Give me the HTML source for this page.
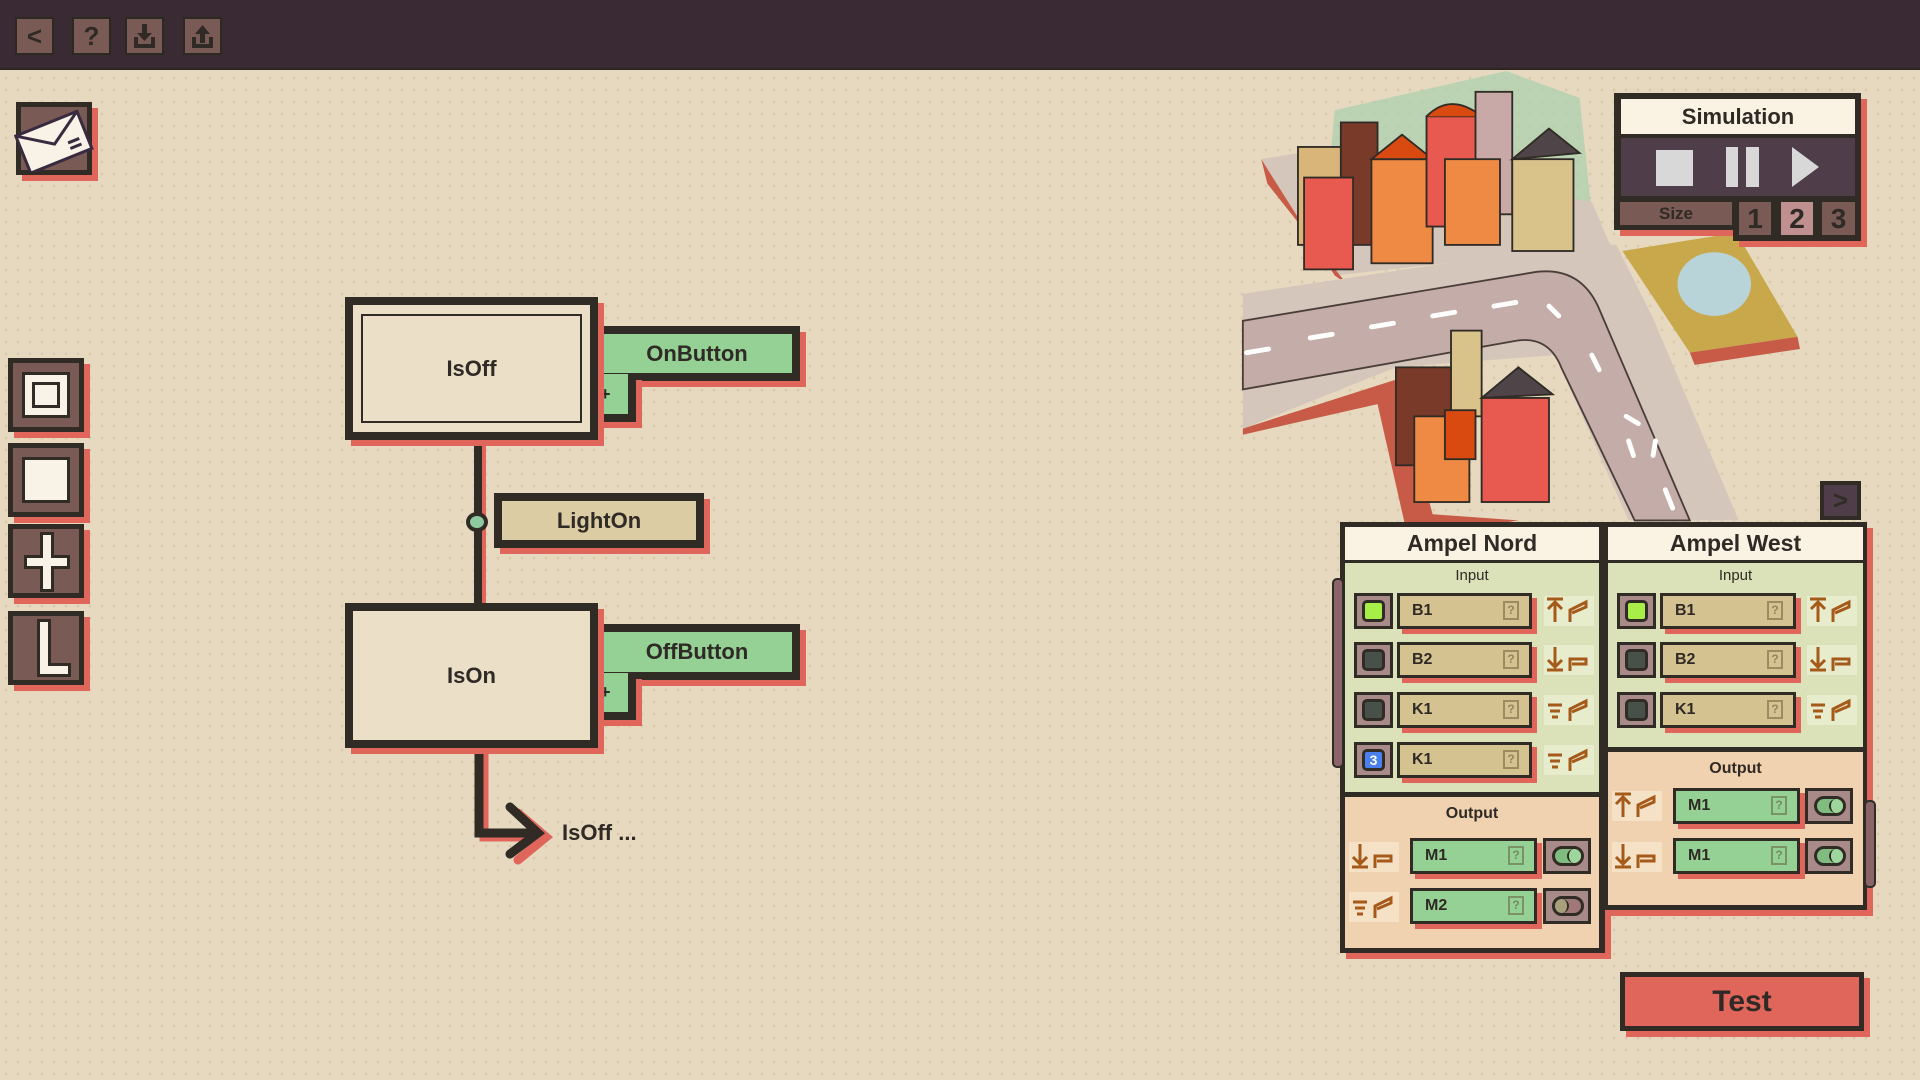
<!DOCTYPE html>
<html><head><meta charset="utf-8">
<style>
*{margin:0;padding:0;box-sizing:border-box}
body{width:1920px;height:1080px;overflow:hidden;position:relative;font-family:"Liberation Sans",sans-serif;font-weight:bold;color:#2f2a25;
background-color:#e6d9bf;background-image:radial-gradient(circle,#d9caae 1.3px,transparent 1.6px);background-size:12px 12px}
.a{position:absolute}
.top{left:0;top:0;width:1920px;height:70px;background:#3a2a33;border-bottom:2px solid #2e2520}
.tb{position:absolute;top:17px;width:39px;height:38px;background:#7a5a55;border:2px solid #2e2822;color:#2f2a25;font-size:26px;text-align:center;line-height:34px}
.box{position:absolute;border:8px solid #302b25;box-shadow:6px 6px 0 #e0665c}
.tool{position:absolute;left:8px;width:76px;height:74px;background:#7a5a55;border:5px solid #302b25;box-shadow:6px 6px 0 #e0665c}
.tool i{position:absolute;background:#f8f3e6;border:3px solid #302b25}
.lbl{display:flex;align-items:center;justify-content:center}
.green{background:#95d095}
.lt{position:absolute;width:39px;height:36px;background:#a88a88;border:3px solid #302b25}
.lt b{position:absolute;left:5px;top:4px;width:23px;height:22px;border:3px solid #302b25;border-radius:5px}
.fld{position:absolute;height:36px;border:3px solid #302b25;box-shadow:5px 5px 0 #e0665c;font-size:16px;line-height:30px;padding-left:12px}
.fld s{position:absolute;right:10px;top:5px;width:16px;height:19px;border:2px solid rgba(90,70,40,.45);text-decoration:none;font-size:12px;line-height:15px;text-align:center;color:rgba(90,70,40,.5)}
.ic{position:absolute;width:50px;height:30px;background:rgba(255,255,240,.35)}
.tg{position:absolute;width:48px;height:36px;background:#a88a88;border:3px solid #302b25}
.tg b{position:absolute;left:6px;top:5px;width:32px;height:20px;border:3px solid #302b25;border-radius:10px;background:#80bb80}
.tg b i{position:absolute;right:0;top:0;width:14px;height:14px;border-radius:50%;background:#9ed79e;border-left:2px solid #302b25}
.tg.off b{background:#a07878}.tg.off b i{left:0;right:auto;background:#a8a07a;border-left:0;border-right:2px solid #302b25}
</style></head><body>
<div class="a top"></div>
<div class="tb" style="left:15px">&lt;</div>
<div class="tb" style="left:72px">?</div>
<div class="tb" style="left:125px"><svg width="35" height="34"><path d="M9 18v9h17v-9" fill="none" stroke="#2f2a25" stroke-width="4"/><path d="M15 5h5v9h5l-7.5 8-7.5-8h5z" fill="#2f2a25"/></svg></div>
<div class="tb" style="left:183px"><svg width="35" height="34"><path d="M9 18v9h17v-9" fill="none" stroke="#2f2a25" stroke-width="4"/><path d="M15 24h5v-9h5l-7.5-9-7.5 9h5z" fill="#2f2a25"/></svg></div>

<div class="a" style="left:16px;top:102px;width:76px;height:73px;background:#7a5a55;border:5px solid #302b25;box-shadow:6px 6px 0 #e0665c"></div>
<svg class="a" style="left:14px;top:108px" width="80" height="64"><g transform="rotate(-22 40 32)"><rect x="6" y="14" width="66" height="40" fill="#f8f3e6" stroke="#3a2a40" stroke-width="3"/><path d="M6 14l33 22 33-22" fill="none" stroke="#3a2a40" stroke-width="3"/><path d="M52 40h12M52 46h12" stroke="#3a2a40" stroke-width="3"/></g></svg>

<div class="tool" style="top:358px"><i style="left:9px;top:9px;width:48px;height:46px"></i><i style="left:19px;top:19px;width:28px;height:26px"></i></div>
<div class="tool" style="top:443px"><i style="left:9px;top:9px;width:48px;height:46px"></i></div>
<div class="tool" style="top:524px"><i style="left:27px;top:3px;width:14px;height:60px"></i><i style="left:11px;top:26px;width:46px;height:14px"></i><i style="left:30px;top:6px;width:8px;height:54px;border:0"></i></div>
<div class="tool" style="top:611px"><i style="left:24px;top:3px;width:14px;height:58px"></i><i style="left:24px;top:47px;width:34px;height:14px"></i><i style="left:27px;top:6px;width:8px;height:44px;border:0"></i></div>

<!-- diagram connectors -->
<div class="a" style="left:474px;top:440px;width:8px;height:165px;background:#302b25;box-shadow:4px 0 0 #e0665c"></div>
<div class="a" style="left:466px;top:512px;width:22px;height:20px;border-radius:50%;background:#8fc9a0;border:4px solid #302b25"></div>
<svg class="a" style="left:460px;top:745px" width="100" height="120"><g fill="none" stroke-width="9" stroke-linecap="round"><path d="M20 5v83h58M54 64l28 24-28 23" stroke="#e0665c" transform="translate(4,4)"/><path d="M19 3v85h59M50 62l28 26-28 21" stroke="#302b25"/></g></svg>
<div class="a" style="left:562px;top:820px;font-size:22px">IsOff ...</div>

<div class="box lbl green" style="left:594px;top:326px;width:206px;height:55px;font-size:22px">OnButton</div>
<div class="box lbl green" style="left:594px;top:374px;width:42px;height:48px;font-size:18px;justify-content:flex-start;padding-left:6px;border-top:0;border-left:0">+</div>
<div class="box" style="left:345px;top:297px;width:253px;height:143px;background:#ebdfc8"><div class="a lbl" style="left:8px;top:9px;right:8px;bottom:9px;border:2px solid #302b25;font-size:22px">IsOff</div></div>

<div class="box lbl green" style="left:594px;top:624px;width:206px;height:56px;font-size:22px">OffButton</div>
<div class="box lbl green" style="left:594px;top:673px;width:42px;height:47px;font-size:18px;justify-content:flex-start;padding-left:6px;border-top:0;border-left:0">+</div>
<div class="box lbl" style="left:345px;top:603px;width:253px;height:145px;background:#ebdfc8;font-size:22px">IsOn</div>

<div class="box lbl" style="left:494px;top:493px;width:210px;height:55px;background:#dccca4;font-size:22px">LightOn</div>

<!-- city -->
<svg class="a" style="left:0;top:0" width="1920" height="1080" viewBox="0 0 1568 882">
<polygon points="1090,90 1230,58 1290,80 1300,175 1080,200" fill="#a8cfae" opacity=".7"/>
<polygon points="1030,130 1060,125 1300,165 1315,200 1090,225" fill="#d5c6bb"/>
<polygon points="1030,130 1090,225 1100,232 1035,150" fill="#c85a48"/>
<polygon points="1015,240 1280,200 1320,200 1350,260 1420,425 1330,425 1270,290 1140,300 1015,350" fill="#d5c6bb"/>
<polygon points="1015,350 1140,310 1170,420 1240,425 1150,440 1125,330 1015,355" fill="#c85a48"/>
<path d="M1015 262 L1255 222 Q1290 218 1305 250 L1380 425 L1335 425 L1275 300 Q1265 275 1240 278 L1015 318 Z" fill="#c4aca8" stroke="#4a3e3a" stroke-width="1.5"/>
<g stroke="#fff" stroke-width="4" stroke-linecap="round"><path d="M1018 288l18-3M1070 276l18-3M1120 267l18-3M1170 258l18-3M1220 250l18-3M1265 250l8 8M1300 290l6 12M1328 340l10 6M1330 360l4 12M1352 360l-2 12M1360 400l6 15"/></g>
<polygon points="1325,205 1418,190 1468,275 1380,288" fill="#c8a84a"/>
<polygon points="1380,288 1468,275 1470,285 1384,298" fill="#c85a48"/>
<ellipse cx="1400" cy="232" rx="30" ry="26" fill="#b8d4d8"/>
<g stroke="#302b25" stroke-width="1.5">
<rect x="1060" y="120" width="40" height="80" fill="#d9b57a"/>
<rect x="1095" y="100" width="30" height="100" fill="#7a3a2a"/>
<rect x="1065" y="145" width="40" height="75" fill="#e85a50"/>
<rect x="1120" y="130" width="50" height="85" fill="#ef8a45"/>
<polygon points="1120,130 1145,110 1170,130" fill="#d84a10"/>
<rect x="1165" y="95" width="45" height="90" fill="#e85a50"/>
<path d="M1165 95q20-20 45 0" fill="#d84a10"/>
<rect x="1205" y="75" width="30" height="100" fill="#c9a8a8"/>
<rect x="1180" y="130" width="45" height="70" fill="#ef8a45"/>
<rect x="1235" y="130" width="50" height="75" fill="#d9c38a"/>
<polygon points="1235,130 1265,105 1290,125" fill="#4f4548"/>
<rect x="1140" y="300" width="45" height="80" fill="#7a3a2a"/>
<rect x="1185" y="270" width="25" height="70" fill="#d9c38a"/>
<rect x="1155" y="340" width="45" height="70" fill="#ef8a45"/>
<rect x="1180" y="335" width="25" height="40" fill="#d84a10"/>
<rect x="1210" y="325" width="55" height="85" fill="#e85a50"/>
<polygon points="1210,325 1240,300 1268,322" fill="#4f4548"/>
</g>
</svg>

<!-- simulation -->
<div class="a" style="left:1614px;top:93px;width:247px;height:137px;background:#302b25;box-shadow:6px 6px 0 #e0665c"></div>
<div class="a" style="left:1733px;top:200px;width:128px;height:41px;background:#302b25;box-shadow:6px 6px 0 #e0665c"></div>
<div class="a lbl" style="left:1621px;top:99px;width:234px;height:35px;background:#faf3e3;font-size:22px">Simulation</div>
<div class="a" style="left:1621px;top:138px;width:234px;height:58px;background:#4f3e4a"></div>
<div class="a" style="left:1656px;top:150px;width:37px;height:36px;background:#d8d8d8"></div>
<div class="a" style="left:1726px;top:147px;width:12px;height:40px;background:#d8d8d8"></div>
<div class="a" style="left:1746px;top:147px;width:13px;height:40px;background:#d8d8d8"></div>
<div class="a" style="left:1792px;top:147px;width:0;height:0;border-left:27px solid #d8d8d8;border-top:20px solid transparent;border-bottom:20px solid transparent"></div>
<div class="a lbl" style="left:1620px;top:202px;width:112px;height:23px;background:#7a5a55;font-size:17px">Size</div>
<div class="a lbl" style="left:1739px;top:202px;width:32px;height:33px;background:#7a5a55;font-size:28px">1</div>
<div class="a lbl" style="left:1781px;top:202px;width:32px;height:33px;background:#c09090;font-size:28px">2</div>
<div class="a lbl" style="left:1822px;top:202px;width:33px;height:33px;background:#7a5a55;font-size:28px">3</div>

<div class="a lbl" style="left:1820px;top:481px;width:41px;height:39px;background:#4f3e4a;border:4px solid #302b25;color:#302b25;font-size:26px">&gt;</div>

<!-- Ampel panels -->
<div class="a" style="left:1340px;top:522px;width:265px;height:431px;background:#302b25;box-shadow:6px 6px 0 #e0665c"></div>
<div class="a" style="left:1603px;top:522px;width:264px;height:388px;background:#302b25;box-shadow:6px 6px 0 #e0665c"></div>
<div class="a lbl" style="left:1345px;top:527px;width:254px;height:33px;background:#faf3e3;font-size:23px">Ampel Nord</div>
<div class="a" style="left:1345px;top:563px;width:254px;height:229px;background:#dbe2b9"></div>
<div class="a" style="left:1345px;top:797px;width:254px;height:151px;background:#f0d2b0"></div>
<div class="a lbl" style="left:1608px;top:527px;width:255px;height:33px;background:#faf3e3;font-size:23px">Ampel West</div>
<div class="a" style="left:1608px;top:563px;width:255px;height:184px;background:#dbe2b9"></div>
<div class="a" style="left:1608px;top:752px;width:255px;height:153px;background:#f0d2b0"></div>
<div class="a" style="left:1345px;top:567px;width:254px;text-align:center;font-size:15px;font-weight:normal">Input</div>
<div class="a" style="left:1608px;top:567px;width:255px;text-align:center;font-size:15px;font-weight:normal">Input</div>
<div class="a" style="left:1345px;top:805px;width:254px;text-align:center;font-size:16px">Output</div>
<div class="a" style="left:1608px;top:760px;width:255px;text-align:center;font-size:16px">Output</div>

<!-- side pipes -->
<div class="a" style="left:1332px;top:578px;width:12px;height:190px;background:#8a6468;border:2px solid #302b25;border-radius:5px"></div>
<div class="a" style="left:1864px;top:800px;width:12px;height:88px;background:#8a6468;border:2px solid #302b25;border-radius:5px"></div>

<!-- Nord input rows -->
<div class="lt" style="left:1354px;top:593px"><b style="background:#a8ee48"></b></div><div class="fld" style="left:1397px;top:593px;width:135px;background:#d4c290">B1<s>?</s></div>
<div class="lt" style="left:1354px;top:642px"><b style="background:#48504a"></b></div><div class="fld" style="left:1397px;top:642px;width:135px;background:#d4c290">B2<s>?</s></div>
<div class="lt" style="left:1354px;top:692px"><b style="background:#48504a"></b></div><div class="fld" style="left:1397px;top:692px;width:135px;background:#d4c290">K1<s>?</s></div>
<div class="lt" style="left:1354px;top:742px"><b style="background:#4a80f0;color:#fff;font-size:14px;text-align:center;line-height:16px">3</b></div><div class="fld" style="left:1397px;top:742px;width:135px;background:#d4c290">K1<s>?</s></div>
<!-- West input rows -->
<div class="lt" style="left:1617px;top:593px"><b style="background:#a8ee48"></b></div><div class="fld" style="left:1660px;top:593px;width:136px;background:#d4c290">B1<s>?</s></div>
<div class="lt" style="left:1617px;top:642px"><b style="background:#48504a"></b></div><div class="fld" style="left:1660px;top:642px;width:136px;background:#d4c290">B2<s>?</s></div>
<div class="lt" style="left:1617px;top:692px"><b style="background:#48504a"></b></div><div class="fld" style="left:1660px;top:692px;width:136px;background:#d4c290">K1<s>?</s></div>

<!-- icons -->
<svg width="0" height="0" style="position:absolute"><defs>
<g id="up" stroke="#a65a1a" stroke-width="3" fill="none"><path d="M3 3h16M11 6v20M4 13l7-7 7 7"/><path d="M26 26v-12l16-8v5l-14 6" /></g>
<g id="dn" stroke="#a65a1a" stroke-width="3" fill="none"><path d="M3 25h16M11 2v20M4 15l7 7 7-7"/><path d="M26 26v-12h16v5h-14"/></g>
<g id="eq" stroke="#a65a1a" stroke-width="3" fill="none"><path d="M4 10h14M6 16h10M8 22h6"/><path d="M26 26v-12l16-8v5l-14 6"/></g>
</defs></svg>
<svg class="ic" style="left:1544px;top:596px"><use href="#up"/></svg>
<svg class="ic" style="left:1544px;top:645px"><use href="#dn"/></svg>
<svg class="ic" style="left:1544px;top:695px"><use href="#eq"/></svg>
<svg class="ic" style="left:1544px;top:745px"><use href="#eq"/></svg>
<svg class="ic" style="left:1807px;top:596px"><use href="#up"/></svg>
<svg class="ic" style="left:1807px;top:645px"><use href="#dn"/></svg>
<svg class="ic" style="left:1807px;top:695px"><use href="#eq"/></svg>
<svg class="ic" style="left:1349px;top:842px"><use href="#dn"/></svg>
<svg class="ic" style="left:1349px;top:892px"><use href="#eq"/></svg>
<svg class="ic" style="left:1612px;top:791px"><use href="#up"/></svg>
<svg class="ic" style="left:1612px;top:842px"><use href="#dn"/></svg>

<!-- outputs -->
<div class="fld" style="left:1410px;top:838px;width:127px;background:#95d095">M1<s>?</s></div><div class="tg" style="left:1543px;top:838px"><b><i></i></b></div>
<div class="fld" style="left:1410px;top:888px;width:127px;background:#95d095">M2<s>?</s></div><div class="tg off" style="left:1543px;top:888px"><b><i></i></b></div>
<div class="fld" style="left:1673px;top:788px;width:127px;background:#95d095">M1<s>?</s></div><div class="tg" style="left:1805px;top:788px"><b><i></i></b></div>
<div class="fld" style="left:1673px;top:838px;width:127px;background:#95d095">M1<s>?</s></div><div class="tg" style="left:1805px;top:838px"><b><i></i></b></div>

<div class="a lbl" style="left:1620px;top:972px;width:244px;height:59px;background:#e0665c;border:5px solid #302b25;box-shadow:6px 6px 0 #e0665c;font-size:30px">Test</div>
</body></html>
